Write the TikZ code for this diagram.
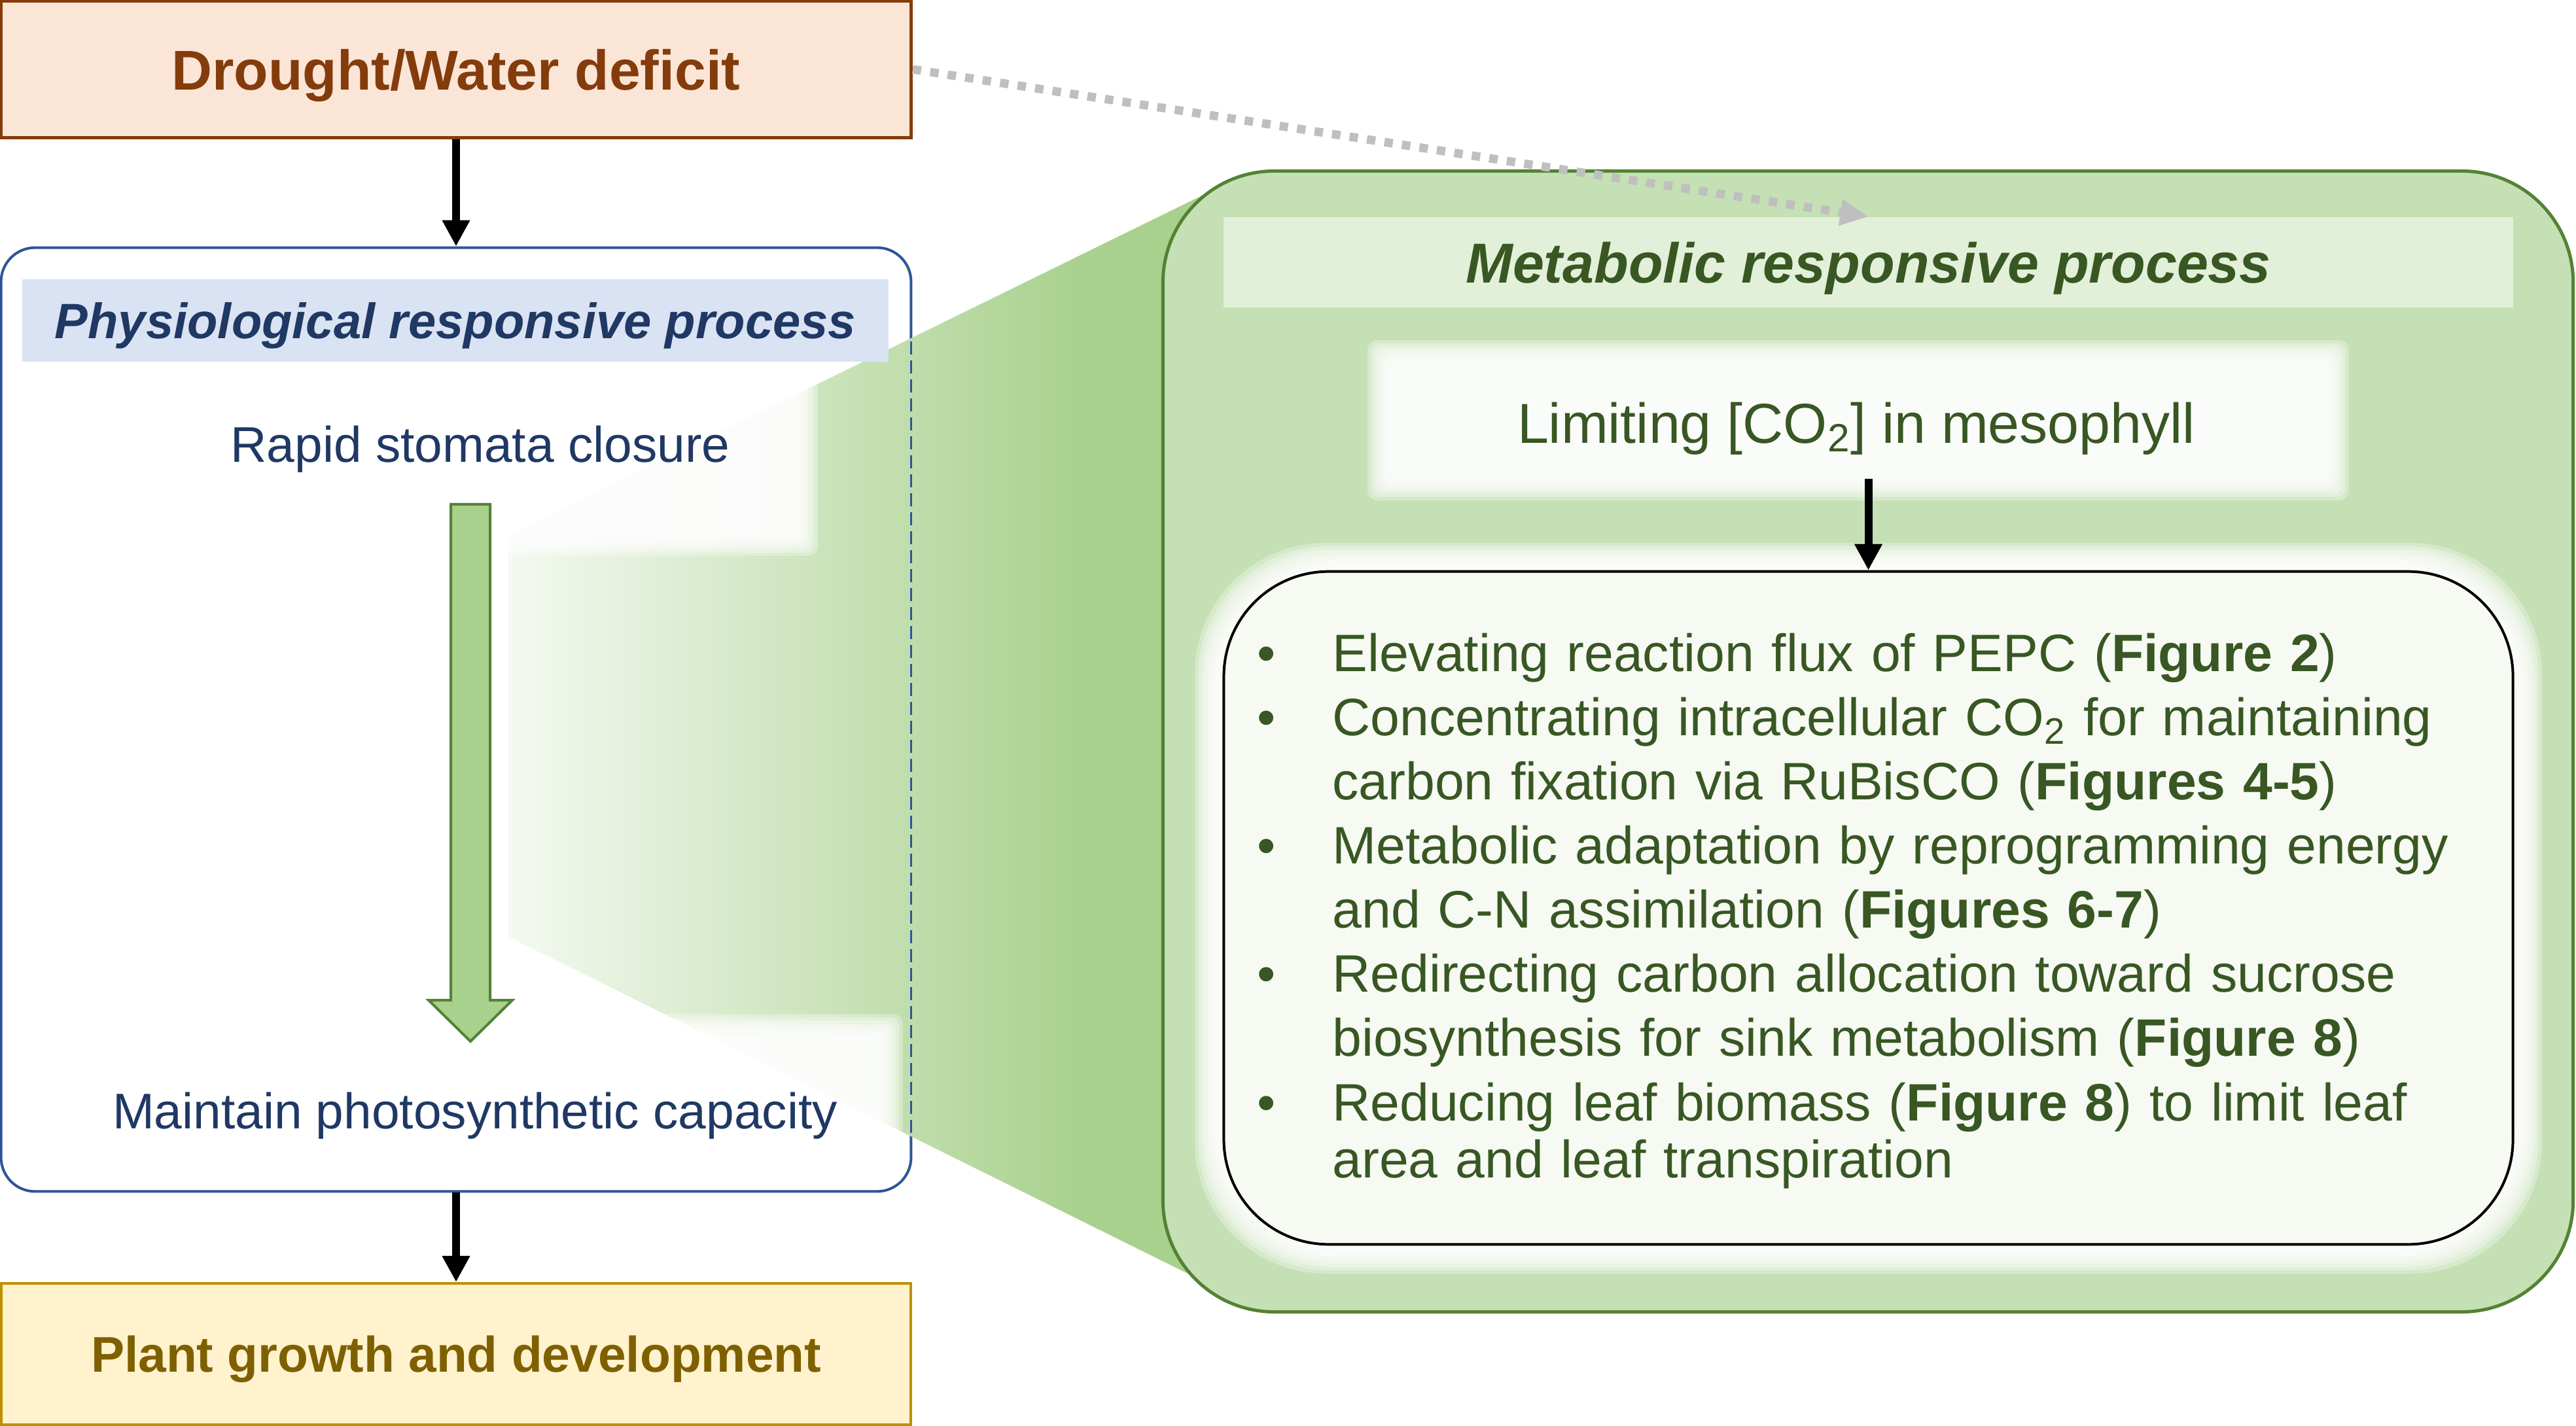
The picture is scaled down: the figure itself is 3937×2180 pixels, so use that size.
\documentclass[tikz,border=0pt]{standalone}
\usepackage{fontspec}
\setmainfont{Liberation Sans}
\usetikzlibrary{arrows.meta,calc}

\definecolor{droughtfill}{HTML}{FBE5D6}
\definecolor{droughtline}{HTML}{843C0C}
\definecolor{physline}{HTML}{2F5597}
\definecolor{physband}{HTML}{DAE3F3}
\definecolor{phystext}{HTML}{1F3864}
\definecolor{plantfill}{HTML}{FFF2CC}
\definecolor{plantline}{HTML}{BF9000}
\definecolor{planttext}{HTML}{7F6000}
\definecolor{metafill}{HTML}{C5E0B4}
\definecolor{metaline}{HTML}{548235}
\definecolor{metaband}{HTML}{E2F0D9}
\definecolor{metatext}{HTML}{385723}
\definecolor{funnelgreen}{HTML}{A9D18E}
\definecolor{funnelpale}{HTML}{F4F9F1}
\definecolor{listfill}{HTML}{F6FAF3}
\definecolor{linkgray}{HTML}{BFBFBF}

\pgfdeclarehorizontalshading{funnelfade}{100bp}{color(0bp)=(funnelpale); color(25bp)=(funnelpale); color(64bp)=(funnelgreen); color(100bp)=(funnelgreen)}

% white glow: stacked see-through boxes, outer bounds given
\newcommand{\softbox}[5][0.15cm]{%
  \foreach \g in {0,...,7}
    \fill[white, opacity=0.3, rounded corners=#1] (#2+\g*5,#3+\g*5) rectangle (#4-\g*5,#5-\g*5);}

\newcommand{\bulletitem}[1]{\par\noindent\hbox to 1.37cm{\hskip0.225cm\textbullet\hfil}#1\par}
\newcommand{\nextline}{\newline\hspace*{1.37cm}}

\begin{document}
\begin{tikzpicture}[x=0.01cm,y=-0.01cm]
        \tikzstyle{topbox}=[draw=droughtline, fill=droughtfill, line width=0.05cm, minimum width=13.9cm, minimum height=2.09cm, text depth=0pt, text=droughtline, font=\bfseries\fontsize{24.4}{29}\selectfont]
        \tikzstyle{bottombox}=[draw=plantline, fill=plantfill, line width=0.04cm, minimum width=13.9cm, minimum height=2.16cm, text depth=0pt, text=planttext, font=\bfseries\fontsize{21.8}{26}\selectfont]
        \tikzstyle{physbox}=[draw=physline, fill=white, line width=0.04cm, rounded corners=0.52cm, minimum width=13.9cm, minimum height=14.42cm]
        \tikzstyle{physhead}=[fill=physband, minimum width=13.23cm, minimum height=1.25cm, text depth=0pt, text=phystext, font=\bfseries\itshape\fontsize{21.6}{26}\selectfont]
        \tikzstyle{physstep}=[text=phystext, font=\fontsize{21.8}{26}\selectfont]
        \tikzstyle{metabox}=[draw=metaline, fill=metafill, line width=0.05cm, rounded corners=1.7cm, minimum width=21.54cm, minimum height=17.43cm]
        \tikzstyle{metahead}=[fill=metaband, minimum width=19.69cm, minimum height=1.38cm, text depth=0pt, text=metatext, font=\bfseries\itshape\fontsize{24.5}{29}\selectfont]
        \tikzstyle{metastep}=[text=metatext, font=\fontsize{24.5}{29}\selectfont]
        \tikzstyle{listbox}=[draw=black, fill=listfill, line width=0.04cm, rounded corners=1.6cm, minimum width=19.69cm, minimum height=10.28cm, text width=19.11cm, inner xsep=0.29cm, text=metatext, font=\fontsize{22.9}{27.9}\selectfont]
        \tikzstyle{flow}=[-{Triangle[length=0.4cm,width=0.4cm]}, line width=0.12cm]
        \tikzstyle{link}=[-{Triangle[length=0.43cm,width=0.38cm]}, draw=linkgray, line width=0.13cm, dash pattern=on 0.13cm off 0.14cm]
        \tikzstyle{blockarrow}=[draw=metaline, fill=funnelgreen, line width=0.04cm]

        \useasboundingbox (0,0) rectangle (3937,2180);

        % left column
        \node[topbox] (drought) at (697,106) {Drought/Water deficit};
        \node[physbox] (phys) at (697,1100) {};
        \node[bottombox] (plant) at (697,2070) {Plant growth and development};

        % funnel towards the metabolic box
        \shade[shading=funnelfade] (777,819) -- (1900,268) -- (1900,1989) -- (777,1432) -- cycle;
        \softbox{280}{560}{1250}{850}
        \softbox{60}{1550}{1380}{1810}
        \draw[physline, line width=0.03cm, dash pattern=on 0.2cm off 0.09cm] (1392,522) -- (1392,1737);

        \node[physhead] (physhead) at (696,490) {Physiological responsive process};
        \node[physstep] (rapid) at (734,687) {Rapid stomata closure};
        \node[physstep] (maintain) at (726,1706) {Maintain photosynthetic capacity};
        \coordinate (gtop) at (719,771);
        \coordinate (gtip) at (719,1592);
        \draw[blockarrow] ($(gtop)+(-30,0)$) -- ($(gtop)+(30,0)$) -- ($(gtip)+(30,-63)$) -- ($(gtip)+(64,-63)$)
          -- (gtip) -- ($(gtip)+(-64,-63)$) -- ($(gtip)+(-30,-63)$) -- cycle;

        % right column
        \node[metabox] (meta) at (2855,1133.5) {};
        \node[metahead] (metahead) at (2855.5,401) {Metabolic responsive process};
        \softbox{2090}{520}{3590}{765}
        \node[metastep] (limit) at (2837,655) {Limiting [CO\textsubscript{2}] in mesophyll};
        \softbox[2cm]{1826}{830}{3885}{1947}
        \node[listbox] (items) at (2855.5,1388) {%
          \bulletitem{Elevating reaction flux of PEPC (\textbf{Figure 2})}
          \bulletitem{Concentrating intracellular CO\textsubscript{2} for maintaining\nextline carbon fixation via RuBisCO (\textbf{Figures 4-5})}
          \bulletitem{Metabolic adaptation by reprogramming energy\nextline and C-N assimilation (\textbf{Figures 6-7})}
          \bulletitem{Redirecting carbon allocation toward sucrose\nextline biosynthesis for sink metabolism (\textbf{Figure 8})}
          \bulletitem{Reducing leaf biomass (\textbf{Figure 8}) to limit leaf\\[-0.11cm]\hspace*{1.37cm}area and leaf transpiration}
          \vspace{0.31cm}\kern0pt};

        \draw[flow] (drought) -- (phys);
        \draw[flow] (phys) -- (plant);
        \draw[flow] ($(items.north |- limit.south)+(0,24)$) -- (items.north);
        \draw[link] (drought.east) -- (metahead.north);
\end{tikzpicture}
\end{document}
